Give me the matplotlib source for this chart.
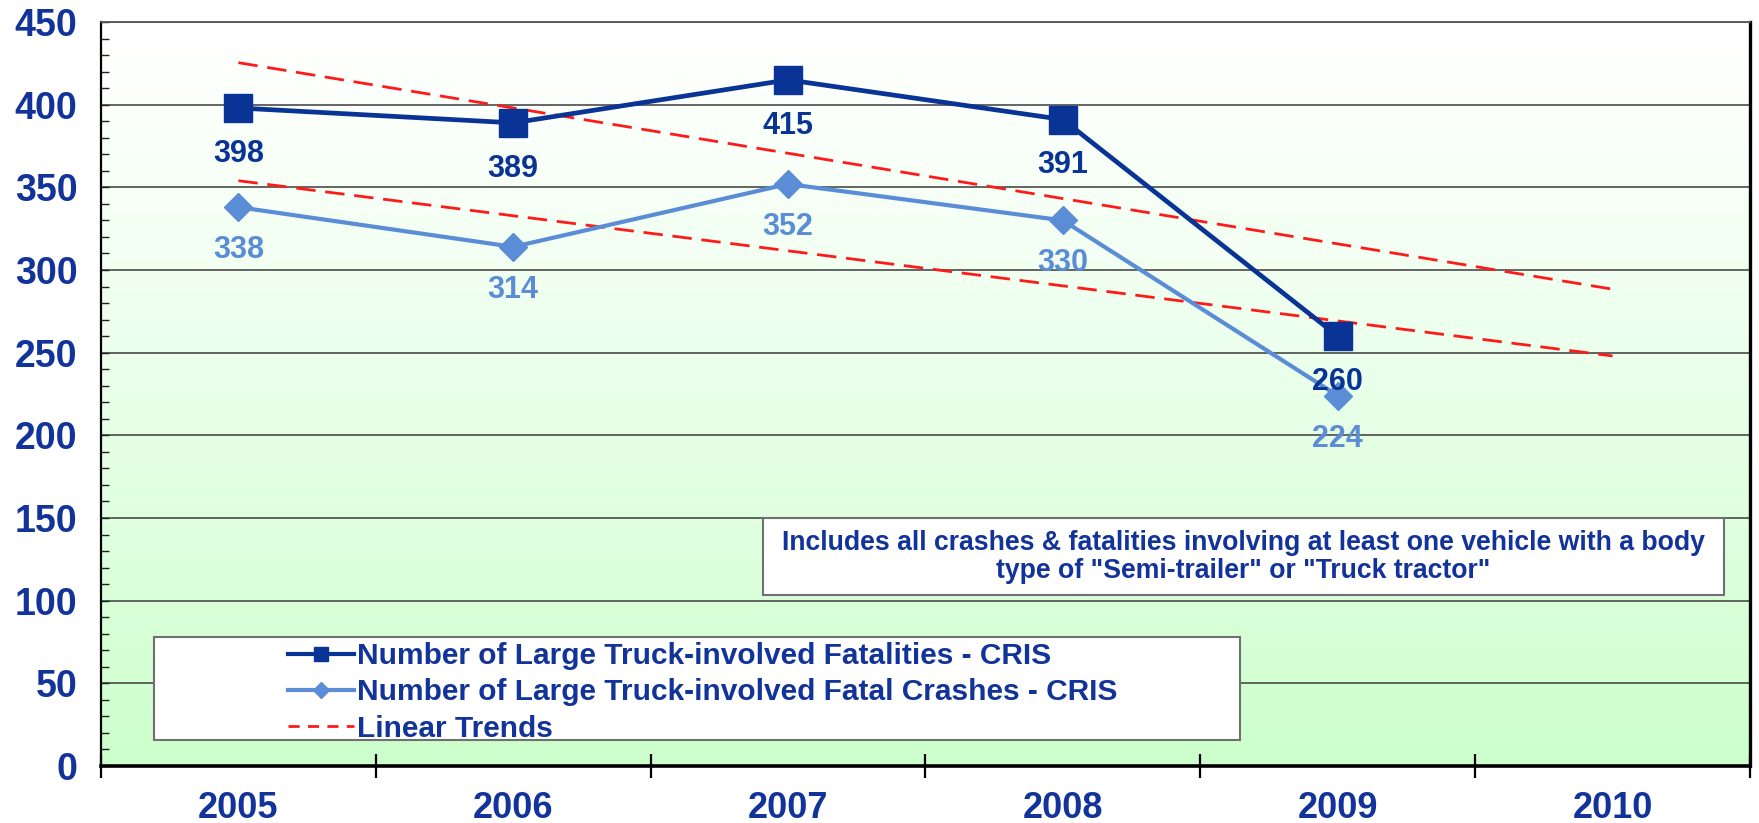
import numpy as np
import matplotlib
matplotlib.use("Agg")
import matplotlib.pyplot as plt
from matplotlib.lines import Line2D
from matplotlib.patches import Rectangle
from matplotlib.ticker import MultipleLocator

# ---- data ----
years = ["2005", "2006", "2007", "2008", "2009", "2010"]
fatalities = [398, 389, 415, 391, 260]
crashes = [338, 314, 352, 330, 224]
label_fat = "Number of Large Truck-involved Fatalities - CRIS"
label_cr = "Number of Large Truck-involved Fatal Crashes - CRIS"
label_trend = "Linear Trends"
note = 'Includes all crashes & fatalities involving at least one vehicle with a body\ntype of "Semi-trailer" or "Truck tractor"'

DARK = "#0a3396"
LIGHT = "#5b8dd6"
RED = "#ff1a1a"
TXT = "#12339a"

plt.rcParams["font.family"] = ["Liberation Sans", "DejaVu Sans"]
plt.rcParams["font.weight"] = "bold"

W, H = 1759, 823
fig = plt.figure(figsize=(W / 100, H / 100), dpi=100)
fig.patch.set_facecolor("white")

def fx(px):
    return px / W

def fy(py):
    return 1 - py / H

ax = fig.add_axes([fx(101), fy(766), fx(1750) - fx(101), fy(22) - fy(766)])

# gradient background
n = 256
t = np.linspace(0, 1, n)[:, None]
top = np.array([1.0, 1.0, 1.0])
bot = np.array([204, 255, 204]) / 255
grad = (1 - t ** 1.2)[..., None] * top + (t ** 1.2)[..., None] * bot
ax.imshow(grad, extent=(-0.5, 5.5, 0, 450), aspect="auto", zorder=0, origin="upper")

x = np.arange(len(fatalities))
xt = np.arange(len(years))

# linear trends (least squares on the data, extended one period)
pf = np.polyfit(x, fatalities, 1)
pc = np.polyfit(x, crashes, 1)
ax.plot(xt, np.polyval(pf, xt), color=RED, lw=2.0, dashes=(7, 3.5), zorder=3)
ax.plot(xt, np.polyval(pc, xt), color=RED, lw=2.0, dashes=(7, 3.5), zorder=3)

ax.plot(x, crashes, color=LIGHT, lw=3.0, marker="D", ms=14, mec=LIGHT, mfc=LIGHT, zorder=4)
ax.plot(x, fatalities, color=DARK, lw=3.4, marker="s", ms=19.5, mec=DARK, mfc=DARK, zorder=5)

for xi, v in zip(x, fatalities):
    ax.annotate(str(v), (xi, v), xytext=(0, -33), textcoords="offset points",
                ha="center", va="center", fontsize=22, color=DARK, fontweight="bold", zorder=6)
for xi, v in zip(x, crashes):
    ax.annotate(str(v), (xi, v), xytext=(0, -31), textcoords="offset points",
                ha="center", va="center", fontsize=22, color=LIGHT, fontweight="bold", zorder=6)

ax.set_xlim(-0.5, 5.5)
ax.set_ylim(0, 450)

# y axis
ax.yaxis.set_major_locator(MultipleLocator(50))
ax.yaxis.set_minor_locator(MultipleLocator(10))
ax.tick_params(axis="y", which="both", direction="in", length=6, width=1.0, color="#222222")
ax.tick_params(axis="y", which="major", pad=17, labelsize=27, labelcolor=TXT)
for lab in ax.get_yticklabels():
    lab.set_fontweight("bold")
ax.yaxis.grid(True, which="major", color="#4a4a4a", lw=1.2)
ax.set_axisbelow(True)

# x axis: ticks between categories, labels at centres
ax.set_xticks(np.arange(-0.5, 6.0, 1.0))
ax.set_xticks(xt, minor=True)
ax.set_xticklabels([], minor=False)
ax.set_xticklabels(years, minor=True, fontsize=26, color=TXT, fontweight="bold")
ax.tick_params(axis="x", which="major", direction="inout", length=17, width=1.6, color="black")
ax.tick_params(axis="x", which="minor", length=0, pad=18)

for s, (c, lw) in {"top": ("#555555", 1.3), "left": ("black", 1.6),
                   "right": ("black", 2.4), "bottom": ("black", 2.6)}.items():
    ax.spines[s].set_color(c)
    ax.spines[s].set_linewidth(lw)

# legend box
fig.patches.append(Rectangle((fx(154), fy(740)), fx(1240) - fx(154), fy(637) - fy(740),
                             transform=fig.transFigure, facecolor="white",
                             edgecolor="#707070", lw=1.5, zorder=7))
handles = [
    Line2D([], [], color=DARK, lw=3, marker="s", ms=10),
    Line2D([], [], color=LIGHT, lw=3, marker="D", ms=8),
    Line2D([], [], color=RED, lw=2, dashes=(4, 3)),
]
leg = fig.legend(handles, [label_fat, label_cr, label_trend], loc="upper left",
                 bbox_to_anchor=(fx(282), fy(636)), frameon=False, fontsize=21.5,
                 handlelength=2.2, handletextpad=0.1, labelspacing=0.28,
                 borderpad=0.2, borderaxespad=0)
for txt in leg.get_texts():
    txt.set_color(TXT)
    txt.set_fontweight("bold")
leg.set_zorder(8)

# note box
fig.patches.append(Rectangle((fx(763), fy(595)), fx(1724) - fx(763), fy(518) - fy(595),
                             transform=fig.transFigure, facecolor="white",
                             edgecolor="#707070", lw=1.5, zorder=7))
fig.text(fx(1243), fy(557), note, ha="center", va="center", fontsize=19.2, color=TXT,
         fontweight="bold", linespacing=1.12, zorder=8)

fig.savefig("out.png", dpi=100)
